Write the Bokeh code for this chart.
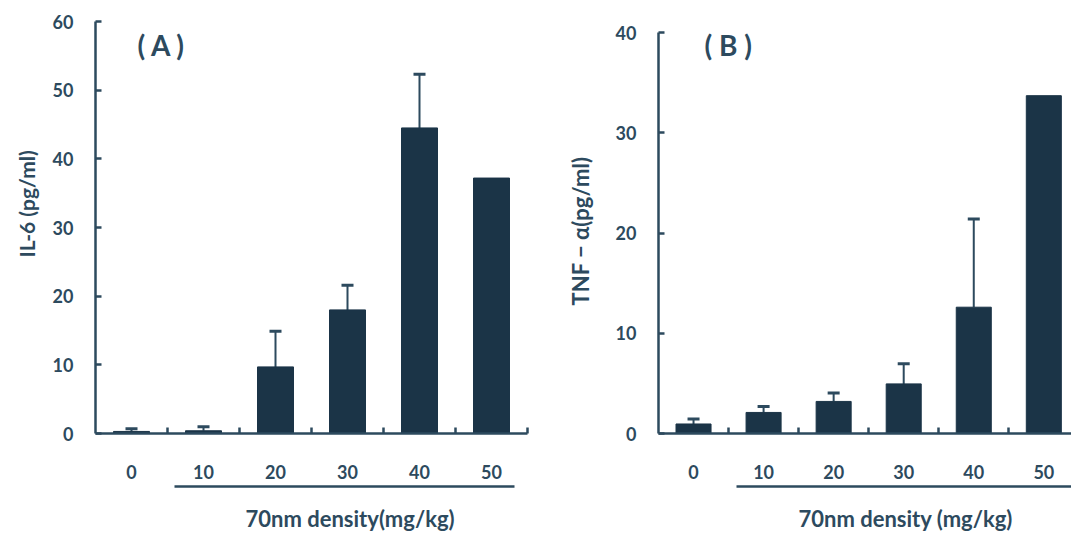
from bokeh.plotting import figure
from bokeh.layouts import row
from bokeh.models import (ColumnDataSource, FixedTicker, LinearAxis, Whisker,
                          TeeHead, Label, Range1d, Title)
from bokeh.embed import file_html
from bokeh.resources import INLINE

# ---- data ----
doses = ["0", "10", "20", "30", "40", "50"]
il6_mean = [0.3, 0.4, 9.7, 18.0, 44.5, 37.2]
il6_sd = [0.4, 0.6, 5.2, 3.6, 7.8, 0.0]
tnf_mean = [0.95, 2.1, 3.2, 4.95, 12.6, 33.7]
tnf_sd = [0.5, 0.6, 0.85, 2.0, 8.8, 0.0]
il6_ticks = [0, 10, 20, 30, 40, 50, 60]
tnf_ticks = [0, 10, 20, 30, 40]

BAR = "#1b3447"
INK = "#2d4a5e"
FONT = "Lato"
H = 533
TOP = 21
BOTTOM = 100


def spacer(p, gap):
    """Invisible axis below the frame that only takes up vertical space."""
    sa = LinearAxis(ticker=FixedTicker(ticks=[2.5]))
    sa.major_label_overrides = {2.5: "."}
    sa.axis_line_color = None
    sa.major_tick_line_color = None
    sa.minor_tick_line_color = None
    sa.major_tick_in = 0
    sa.major_tick_out = gap
    sa.minor_tick_out = 0
    sa.major_label_standoff = 0
    sa.major_label_text_font_size = "1px"
    sa.major_label_text_alpha = 0
    p.add_layout(sa, "below")


def panel(means, sds, yticks, y_end, ylabel, xlabel, tag, width, left,
          frame_w, x_end, under_bounds, tag_x, title_offset, ylab_offset,
          ylab_size, ylab_standoff):
    idx = list(range(len(doses)))
    p = figure(width=width, height=H, output_backend="svg",
               toolbar_location=None, tools="",
               x_range=Range1d(-0.5, x_end),
               y_range=Range1d(yticks[0], y_end),
               min_border_left=left, min_border_right=width - left - frame_w,
               min_border_top=TOP, min_border_bottom=BOTTOM,
               x_axis_type=None, y_axis_type=None)
    p.background_fill_color = None
    p.border_fill_color = None
    p.outline_line_color = None
    p.xgrid.visible = False
    p.ygrid.visible = False

    src = ColumnDataSource(dict(x=idx, top=means))
    p.vbar(x="x", top="top", bottom=0, width=0.5, source=src,
           fill_color=BAR, line_color=BAR)

    wi = [i for i, s in enumerate(sds) if s > 0]
    wsrc = ColumnDataSource(dict(x=[idx[i] for i in wi],
                                 lo=[means[i] for i in wi],
                                 hi=[means[i] + sds[i] for i in wi]))
    w = Whisker(base="x", lower="lo", upper="hi", source=wsrc,
                line_color=INK, line_width=2,
                upper_head=TeeHead(size=12, line_color=INK, line_width=3),
                lower_head=None)
    p.add_layout(w)

    # y axis
    ya = LinearAxis(ticker=FixedTicker(ticks=yticks),
                    bounds=(yticks[0], yticks[-1]))
    ya.axis_line_color = INK
    ya.axis_line_width = 2.5
    ya.major_tick_line_color = INK
    ya.major_tick_line_width = 2.5
    ya.major_tick_in = 6
    ya.major_tick_out = 0
    ya.minor_tick_line_color = None
    ya.major_label_text_font = FONT
    ya.major_label_text_font_style = "bold"
    ya.major_label_text_font_size = "18px"
    ya.major_label_text_color = INK
    ya.major_label_standoff = 22
    p.add_layout(ya, "left")

    # y axis title (as a side title so that it can sit off-centre)
    yt = Title(text=ylabel, align="left", offset=ylab_offset,
               text_font=FONT, text_font_style="bold",
               text_font_size=ylab_size, text_color=INK,
               standoff=ylab_standoff)
    p.add_layout(yt, "left")

    # x axis with dose labels
    xa = LinearAxis(ticker=FixedTicker(ticks=idx,
                                       minor_ticks=[i + 0.5 for i in idx]))
    xa.major_label_overrides = {i: d for i, d in zip(idx, doses)}
    xa.axis_line_color = INK
    xa.axis_line_width = 2.5
    xa.major_tick_line_color = None
    xa.major_tick_in = 0
    xa.major_tick_out = 4
    xa.minor_tick_line_color = INK
    xa.minor_tick_line_width = 2.5
    xa.minor_tick_in = 6
    xa.minor_tick_out = 0
    xa.major_label_text_font = FONT
    xa.major_label_text_font_style = "bold"
    xa.major_label_text_font_size = "18px"
    xa.major_label_text_color = INK
    xa.major_label_standoff = 27
    p.add_layout(xa, "below")

    spacer(p, 5)

    # underline under the treated doses
    ua = LinearAxis(ticker=FixedTicker(ticks=[]), bounds=under_bounds)
    ua.axis_line_color = INK
    ua.axis_line_width = 2.5
    ua.major_tick_line_color = None
    ua.minor_tick_line_color = None
    ua.major_tick_in = 0
    ua.major_tick_out = 0
    ua.minor_tick_out = 0
    ua.major_label_text_font_size = "0px"
    p.add_layout(ua, "below")

    spacer(p, 16)

    # x title, centred under the treated doses
    t = Title(text=xlabel, align="left", offset=title_offset,
              text_font=FONT, text_font_style="bold", text_font_size="22px",
              text_color=INK, standoff=0, text_line_height=1.0)
    p.add_layout(t, "below")

    fh = H - TOP - BOTTOM
    lab = Label(x=tag_x, y=fh - 23, x_units="screen", y_units="screen",
                text=tag, text_font=FONT, text_font_style="bold",
                text_font_size="28px", text_color=INK,
                text_baseline="middle")
    p.add_layout(lab)
    return p


pa = panel(il6_mean, il6_sd, il6_ticks, 60, "IL-6 (pg/ml)",
           "70nm density(mg/kg)", "( A )", 545, 95, 432, 5.5,
           (0.6, 5.32), 42, 150, 176, "21px", 21)
pb = panel(tnf_mean, tnf_sd, tnf_ticks, 41.1, "TNF \u2212 \u03b1(pg/ml)",
           "70nm density (mg/kg)", "( B )", 526, 111, 415, 5.395,
           (0.62, 5.4), 46, 140, 128, "22px", 38)

layout = row(pa, pb)
open("out.html", "w").write(file_html(layout, INLINE))
